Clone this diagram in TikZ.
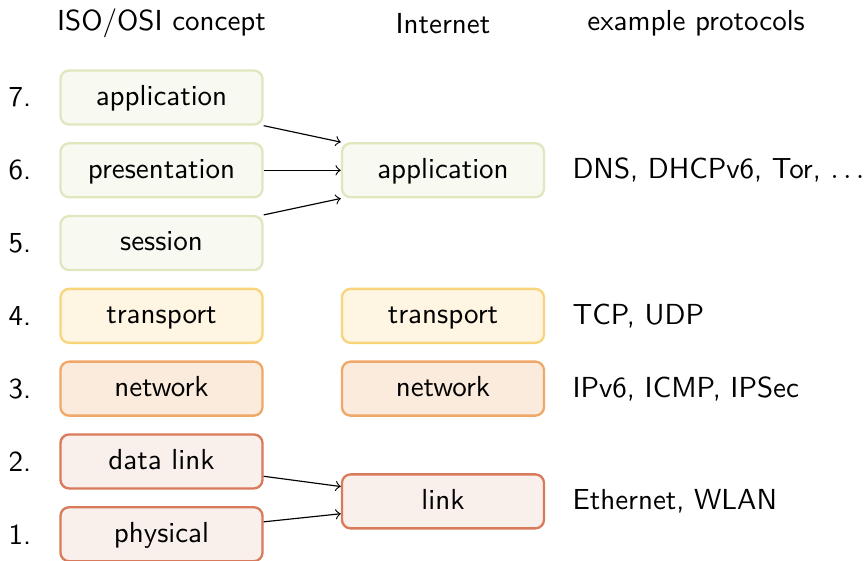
\documentclass[tikz,border=0pt]{standalone}
\usepackage{fontspec}

\definecolor{applborder}{HTML}{DFE7BF}
\definecolor{applfill}{HTML}{F8F9F0}
\definecolor{transborder}{HTML}{F8D47A}
\definecolor{transfill}{HTML}{FEF5E2}
\definecolor{netborder}{HTML}{EFA868}
\definecolor{netfill}{HTML}{FBEBDC}
\definecolor{linkborder}{HTML}{D97A5A}
\definecolor{linkfill}{HTML}{F9EFEB}

\begin{document}
\begin{tikzpicture}[%
      every node/.style={font=\sffamily},
      layer/.style={
        rectangle,
        rounded corners=3pt,
        line width=0.8pt,
        minimum width=2.45cm,
        minimum height=0.655cm,
        text height=1.5ex,
        text depth=.25ex,
        inner sep=0pt
      },
      appl/.style={layer, draw=applborder, fill=applfill},
      trans/.style={layer, draw=transborder, fill=transfill},
      net/.style={layer, draw=netborder, fill=netfill},
      lnk/.style={layer, draw=linkborder, fill=linkfill},
      proto/.style={anchor=west, inner xsep=0pt}
      ]
      \useasboundingbox (0,0) rectangle (10.5,-6.8);

      \pgfmathsetmacro{\xnum}{.24};
      \pgfmathsetmacro{\xosi}{1.958};
      \pgfmathsetmacro{\xnet}{5.371};
      \pgfmathsetmacro{\xproto}{6.935};
      \pgfmathsetmacro{\ytop}{-1.182};
      \pgfmathsetmacro{\dy}{.8825};

      % Headings
      \node (hosi) at (\xosi, -.28) {ISO/OSI concept};
      \node (hnet) at (\xnet, -.28) {Internet};
      \node (hproto) at (8.44, -.28) {example protocols};

      % ISO/OSI layers
      \foreach \n/\txt/\thestyle in {%
        7/application/appl,%
        6/presentation/appl,%
        5/session/appl,%
        4/transport/trans,%
        3/network/net,%
        2/data link/lnk,%
        1/physical/lnk%
      }{
        \node (n\n) at (\xnum, {\ytop-(7-\n)*\dy}) {\n.};
        \node[\thestyle] (l\n) at (\xosi, {\ytop-(7-\n)*\dy}) {\txt};
      }

      % Internet layers
      \node[appl] (iapp) at (\xnet, {\ytop-\dy}) {application};
      \node[trans] (itrans) at (\xnet, {\ytop-3*\dy}) {transport};
      \node[net] (inet) at (\xnet, {\ytop-4*\dy}) {network};
      \node[lnk] (ilink) at (\xnet, -6.079) {link};

      % Protocols
      \node[proto] (papp) at (\xproto, {\ytop-\dy}) {DNS, DHCPv6, Tor, $\ldots$};
      \node[proto] (ptrans) at (\xproto, {\ytop-3*\dy}) {TCP, UDP};
      \node[proto] (pnet) at (\xproto, {\ytop-4*\dy}) {IPv6, ICMP, IPSec};
      \node[proto] (plink) at (\xproto, -6.079) {Ethernet, WLAN};

      % Mapping
      \draw[->] (l7.south east) -- (iapp.north west);
      \draw[->] (l6.east) -- (iapp.west);
      \draw[->] (l5.north east) -- (iapp.south west);
      \draw[->] ([yshift=-.18cm]l2.east) -- ([yshift=.18cm]ilink.west);
      \draw[->] ([yshift=.15cm]l1.east) -- ([yshift=-.15cm]ilink.west);

    \end{tikzpicture}
\end{document}
